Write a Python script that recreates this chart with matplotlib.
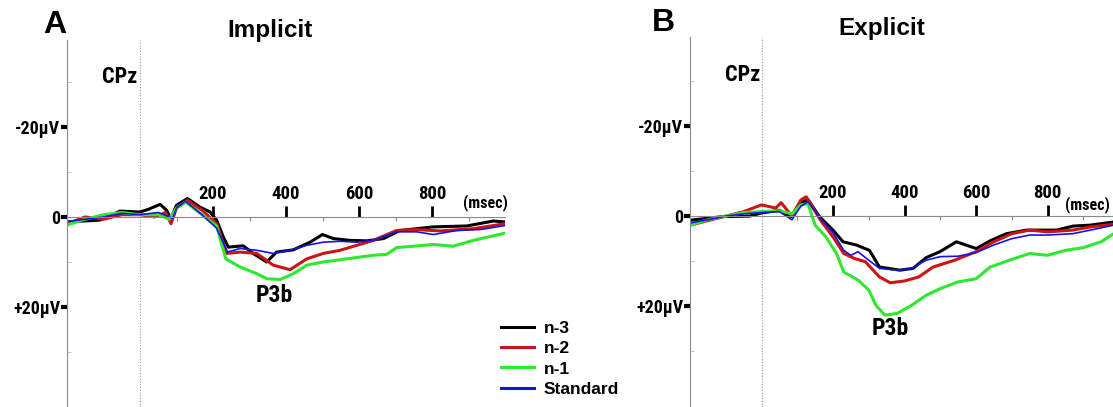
import matplotlib
matplotlib.use("Agg")
import matplotlib.pyplot as plt
from matplotlib.lines import Line2D

# ---- data (msec, microvolts; positive values drawn downward) ----
imp_t_n3 = [-200, -110, -55, 0, 23, 55, 73, 84, 100, 130, 164, 192, 210, 228, 242, 283, 310, 347,
            374, 420, 466, 500, 530, 575, 621, 667, 712, 758, 804, 895, 968, 1000]
imp_n3 = [1.1, 0.7, -1.3, -1.1, -1.7, -2.8, -1.5, 0.4, -2.6, -4.1, -2.2, -1.1, 0.7, 4.4, 6.7, 6.4, 8.1, 10.0,
          7.8, 7.3, 5.6, 3.9, 4.8, 5.2, 5.3, 4.8, 3.0, 2.6, 2.2, 2.0, 0.9, 1.1]

imp_t_n2 = [-200, -150, -100, -50, 0, 40, 70, 85, 100, 130, 170, 210, 237, 274, 320, 365, 411, 457,
            502, 548, 594, 639, 703, 758, 822, 913, 1000]
imp_n2 = [1.5, 0.0, 0.5, -0.5, -0.5, 0.0, -1.0, 1.5, -2.0, -3.7, -1.5, 1.5, 8.1, 7.8, 8.1, 10.7, 11.7, 9.3,
          8.1, 7.4, 6.3, 5.2, 3.0, 2.8, 3.1, 2.6, 1.5]

imp_t_n1 = [-200, -150, -100, -50, 0, 50, 80, 100, 125, 170, 210, 235, 274, 320, 347, 384, 420, 457,
            502, 548, 594, 639, 676, 703, 749, 804, 858, 913, 1000]
imp_n1 = [1.8, 0.5, -0.5, -1.0, -0.5, -0.5, 0.5, -2.0, -3.3, -0.5, 2.0, 9.3, 11.1, 12.6, 13.7, 13.9, 12.6, 10.7,
          10.0, 9.5, 9.0, 8.5, 8.3, 6.8, 6.5, 6.1, 6.5, 5.2, 3.6]

imp_t_std = [-200, -150, -100, -50, 0, 50, 80, 90, 100, 125, 170, 210, 240, 274, 320, 365, 411, 457,
             502, 548, 594, 639, 703, 758, 804, 868, 932, 1000]
imp_std = [1.0, 0.5, 0.0, -0.8, -0.5, -1.0, 0.0, 0.3, -2.0, -3.5, -0.5, 2.5, 7.8, 7.0, 7.4, 8.1, 7.4, 6.3,
           5.6, 5.4, 5.6, 5.2, 3.3, 3.3, 3.9, 3.0, 2.8, 1.9]

exp_t_n3 = [-200, -108, -34, 0, 50, 83, 106, 130, 162, 200, 228, 265, 302, 330, 387, 424, 461, 499,
            545, 601, 639, 685, 741, 825, 872, 919, 985]
exp_n3 = [0.9, 0.1, 0.0, -0.7, -1.3, 0.1, -2.8, -3.7, 0.1, 3.1, 5.7, 6.4, 7.6, 11.3, 12.0, 11.6, 9.2, 7.9,
          5.7, 7.2, 5.5, 3.9, 3.1, 3.1, 2.2, 2.0, 1.3]

exp_t_n2 = [-200, -150, -100, -50, 0, 40, 55, 85, 110, 125, 165, 200, 230, 260, 290, 330, 360, 400,
            440, 480, 540, 600, 650, 700, 750, 800, 870, 920, 985]
exp_n2 = [2.0, 1.0, 0.0, -1.0, -2.5, -1.8, -3.0, 0.0, -3.6, -4.3, 0.9, 4.6, 8.3, 9.4, 10.1, 13.5, 14.8, 14.4,
          13.5, 11.3, 9.8, 7.9, 5.7, 3.9, 3.1, 3.5, 3.1, 2.4, 1.8]

exp_t_n1 = [-200, -150, -100, -50, 0, 50, 85, 110, 130, 150, 180, 210, 230, 270, 300, 320, 345, 380,
            420, 460, 500, 550, 600, 640, 700, 750, 800, 850, 900, 950, 985]
exp_n1 = [2.0, 0.8, 0.0, -0.8, -1.0, -1.2, -0.5, -2.5, -2.8, 2.0, 4.6, 8.3, 12.4, 14.2, 16.4, 19.8, 22.0, 21.6,
          19.8, 17.6, 16.1, 14.6, 13.9, 11.3, 9.6, 8.3, 8.7, 7.6, 7.0, 5.7, 3.9]

exp_t_std = [-200, -150, -100, -50, 0, 50, 85, 110, 130, 165, 200, 230, 250, 270, 300, 330, 380, 420,
             460, 500, 550, 600, 650, 700, 750, 800, 870, 920, 985]
exp_std = [1.5, 0.8, 0.0, -0.5, -0.8, -1.0, 0.8, -2.2, -3.2, 0.5, 3.7, 7.6, 8.7, 7.9, 9.8, 11.6, 12.0, 11.6,
           9.8, 9.0, 8.9, 8.1, 6.4, 5.0, 4.2, 4.2, 3.9, 3.1, 2.0]

labels = ["n-3", "n-2", "n-1", "Standard"]
x_major = [200, 400, 600, 800]
x_minor = [100, 300, 500, 700, 900]
y_major = [-20, 0, 20]
y_labels = ["-20µV", "0", "+20µV"]
y_minor = [-30, -10, 10, 30]

colors = ["#000000", "#cc1414", "#2ee82e", "#1414e6"]
widths = [2.2, 2.2, 2.2, 1.2]

NARROW = ["Roboto Condensed", "DejaVu Sans"]
SANS = ["Liberation Sans", "DejaVu Sans"]
plt.rcParams["font.family"] = NARROW
plt.rcParams["font.weight"] = "bold"

W, H = 1113, 407
fig = plt.figure(figsize=(W / 100, H / 100), dpi=100)


def px_axes(x0, x1, y0, y1):
    return fig.add_axes([x0 / W, 1 - y1 / H, (x1 - x0) / W, (y1 - y0) / H])


def setup(ax, ylim):
    ax.set_xlim(-200, 1000)
    ax.set_ylim(*ylim)
    ax.patch.set_alpha(0)
    for s in ["bottom", "right"]:
        ax.spines[s].set_visible(False)
    ax.spines["top"].set_position(("data", 0))
    ax.spines["top"].set_color("#8a8a8a")
    ax.spines["top"].set_linewidth(0.8)
    ax.spines["left"].set_color("#8a8a8a")
    ax.spines["left"].set_linewidth(0.8)
    ax.xaxis.set_ticks_position("top")
    ax.set_xticks(x_major)
    ax.set_xticks(x_minor, minor=True)
    ax.tick_params(axis="x", which="major", direction="out", length=8, width=2,
                   color="black", pad=2, labelsize=13.5)
    ax.tick_params(axis="x", which="minor", direction="in", length=3, width=0.8,
                   color="#8a8a8a")
    ax.set_yticks(y_major, labels=y_labels)
    ax.set_yticks(y_minor, minor=True)
    ax.tick_params(axis="y", which="major", direction="out", length=4, width=3,
                   color="black", pad=1, labelsize=13)
    ax.tick_params(axis="y", which="minor", direction="in", length=3, width=0.6,
                   color="#bbbbbb")
    ax.axvline(0, color="#9a9a9a", lw=0.8, ls=(0, (1, 1.5)))


ax1 = px_axes(67, 505, 40, 407)
setup(ax1, (42.2, -39.3))
for t, v, c, w, lab in zip([imp_t_n3, imp_t_n2, imp_t_n1, imp_t_std],
                           [imp_n3, imp_n2, imp_n1, imp_std], colors, widths, labels):
    ax1.plot(t, v, color=c, lw=w, label=lab, solid_joinstyle="round")

ax2 = px_axes(690, 1119, 37, 407)
setup(ax2, (42.4, -39.8))
for t, v, c, w in zip([exp_t_n3, exp_t_n2, exp_t_n1, exp_t_std],
                      [exp_n3, exp_n2, exp_n1, exp_std], colors, widths):
    ax2.plot(t, v, color=c, lw=w, solid_joinstyle="round")

# annotations
ax1.text(886, -3.3, "(msec)", fontsize=11.5, ha="left", va="center")
ax2.text(975, -2.6, "(msec)", fontsize=11.5, ha="right", va="center")
ax1.text(368, 17.5, "P3b", fontsize=17, ha="center", va="center")
ax2.text(360, 24.9, "P3b", fontsize=17, ha="center", va="center")


def ftext(x, y, s, **kw):
    fig.text(x / W, 1 - y / H, s, ha="center", va="center", **kw)


ftext(55, 25, "A", fontsize=23, family=SANS)
ftext(270, 30, "Implicit", fontsize=17.5, family=SANS)
ftext(663, 23, "B", fontsize=23, family=SANS)
ftext(882, 28, "Explicit", fontsize=17.5, family=SANS)
ftext(120, 77, "CPz", fontsize=16)
ftext(743, 75, "CPz", fontsize=16)

fig.legend(handles=[Line2D([], [], color=c, lw=2.2) for c in colors], labels=labels,
           loc="upper left", bbox_to_anchor=(501 / W, 1 - 321 / H), frameon=False,
           borderpad=0, borderaxespad=0, handlelength=1.9, handletextpad=0.57,
           labelspacing=0.29, prop={"family": SANS, "weight": "bold", "size": 12.5})

fig.savefig("out.png", dpi=100)
